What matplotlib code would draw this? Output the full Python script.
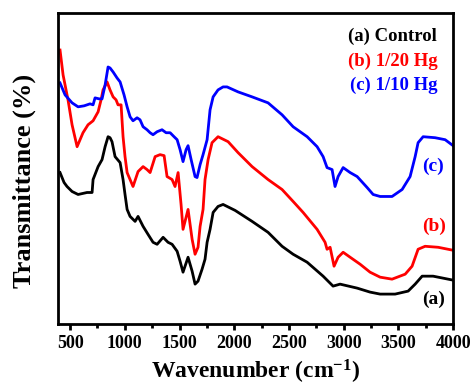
import matplotlib
matplotlib.use("Agg")
import matplotlib.pyplot as plt
from matplotlib.ticker import MultipleLocator

plt.rcParams['font.family'] = ['Liberation Serif', 'DejaVu Serif']
plt.rcParams['font.weight'] = 'bold'
plt.rcParams['mathtext.fontset'] = 'custom'
plt.rcParams['mathtext.rm'] = 'Liberation Serif:bold'
plt.rcParams['mathtext.bf'] = 'Liberation Serif:bold'
plt.rcParams['mathtext.default'] = 'bf'

# (a) Control
wn_a = [408, 445, 472, 518, 573, 655, 701, 710, 756, 792, 820, 847, 865, 883, 911, 957, 984,
        1002, 1021, 1048, 1094, 1121, 1167, 1212, 1258, 1295, 1350, 1395, 1432, 1478, 1505,
        1532, 1578, 1615, 1642, 1669, 1706, 1733, 1752, 1779, 1807, 1852, 1898, 2008, 2163,
        2309, 2437, 2538, 2666, 2812, 2903, 2967, 3123, 3241, 3333, 3470, 3589, 3653, 3717,
        3817, 4000]
t_a = [152, 142, 138, 133, 130, 132, 132, 145, 158, 165, 178, 188, 187, 183, 168, 162, 145,
       130, 115, 108, 103, 108, 98, 90, 82, 80, 87, 82, 80, 73, 63,
       52, 67, 53, 40, 43, 55, 65, 82, 95, 112, 118, 120, 114, 103,
       92, 78, 70, 62, 48, 38, 40, 36, 32, 30, 30, 33, 40, 48,
       48, 44]

# (b) 1/20 Hg
wn_b = [408, 436, 481, 518, 564, 591, 618, 664, 710, 756, 783, 801, 838, 865, 893, 920, 938,
        966, 984, 1002, 1021, 1048, 1075, 1121, 1167, 1203, 1231, 1277, 1322, 1359, 1386,
        1432, 1459, 1487, 1514, 1532, 1578, 1615, 1642, 1669, 1688, 1715, 1733, 1761, 1797,
        1852, 1944, 2035, 2163, 2309, 2437, 2538, 2629, 2757, 2830, 2848, 2876, 2912, 2949,
        2995, 3059, 3150, 3241, 3333, 3442, 3562, 3625, 3680, 3744, 3863, 4000]
t_b = [275, 250, 225, 200, 178, 185, 192, 200, 204, 213, 225, 235, 243, 235, 228, 225, 220,
       220, 188, 168, 152, 145, 138, 153, 158, 155, 152, 168, 170, 169, 148,
       145, 138, 152, 120, 95, 115, 85, 70, 77, 98, 115, 145, 165, 182,
       188, 183, 172, 158, 145, 135, 123, 112, 95, 82, 75, 77, 58, 67,
       72, 67, 60, 52, 47, 45, 50, 58, 75, 78, 77, 74]

# (c) 1/10 Hg
wn_c = [408, 454, 518, 573, 628, 682, 710, 728, 765, 792, 820, 847, 865, 893, 929, 957, 993,
        1021, 1048, 1075, 1112, 1139, 1167, 1203, 1231, 1258, 1295, 1340, 1377, 1414, 1450,
        1478, 1505, 1532, 1560, 1578, 1606, 1642, 1660, 1688, 1715, 1752, 1779, 1807, 1852,
        1898, 1934, 2035, 2163, 2309, 2437, 2538, 2666, 2757, 2812, 2848, 2894, 2921, 2949,
        2995, 3059, 3123, 3214, 3269, 3333, 3442, 3534, 3607, 3653, 3680, 3726, 3835, 3927, 4000]
t_c = [242, 230, 222, 218, 219, 221, 220, 227, 226, 226, 240, 258, 257, 253, 247, 243, 230,
       218, 208, 204, 207, 205, 198, 195, 192, 190, 193, 195, 192, 192, 188,
       185, 175, 163, 175, 179, 165, 148, 147, 160, 170, 185, 215, 228, 235,
       238, 238, 233, 228, 222, 210, 198, 188, 178, 168, 157, 155, 138, 148,
       157, 152, 148, 137, 130, 128, 128, 135, 148, 168, 182, 188, 187, 185, 179]

legend_labels = ['(a) Control', '(b) 1/20 Hg', '(c) 1/10 Hg']
curve_tags = ['(a)', '(b)', '(c)']
colors = ['black', '#ff0000', '#0000ff']

fig = plt.figure(figsize=(4.72, 3.88), dpi=100)
ax = fig.add_axes([0.123, 0.165, 0.837, 0.801])

for wn, t, c in zip([wn_a, wn_b, wn_c], [t_a, t_b, t_c], colors):
    ax.plot(wn, t, color=c, lw=2.0, solid_joinstyle='round')

ax.set_xlim(390, 4000)
ax.set_ylim(0, 312)
ax.set_xticks([500, 1000, 1500, 2000, 2500, 3000, 3500, 4000])
ax.xaxis.set_minor_locator(MultipleLocator(250))
ax.set_yticks([])
ax.tick_params(axis='x', which='major', direction='out', length=4, width=2,
               labelsize=13, pad=4)
ax.tick_params(axis='x', which='minor', direction='out', length=3, width=2)
for lab in ax.get_xticklabels():
    lab.set_fontweight('bold')
for sp in ax.spines.values():
    sp.set_linewidth(2)

ax.set_xlabel('Wavenumber (cm$^{-1}$)', fontsize=17, fontweight='bold', labelpad=4)
ax.set_ylabel('Transmittance (%)', fontsize=19, fontweight='bold')
ax.yaxis.set_label_coords(-0.057, 0.46)

# legend-like text block
for i, (lab, c) in enumerate(zip(legend_labels, colors)):
    ax.text(0.96, 0.925 - i * 0.079, lab, color=c, transform=ax.transAxes,
            ha='right', va='center', fontsize=13.5, fontweight='bold')

# curve tags
tag_pos = [(3720, 25), (3720, 98), (3720, 158)]
for (x, y), tag, c in zip(tag_pos, curve_tags, colors):
    ax.text(x, y, tag, color=c, ha='left', va='center', fontsize=14, fontweight='bold')

fig.savefig('out.png', dpi=100)
